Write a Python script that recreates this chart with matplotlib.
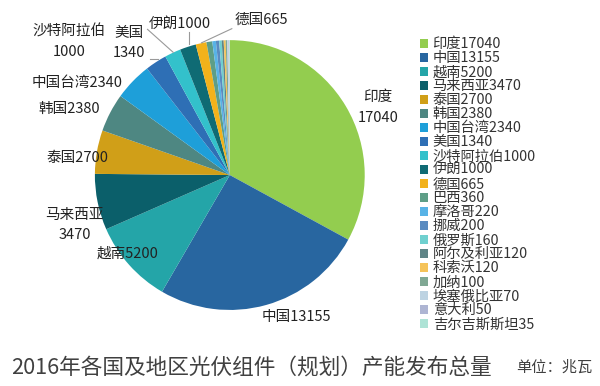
import matplotlib
matplotlib.use("Agg")
import matplotlib.pyplot as plt
from matplotlib.patches import Patch

plt.rcParams["font.family"] = ["Noto Sans CJK SC", "DejaVu Sans"]

countries = ["印度", "中国", "越南", "马来西亚", "泰国", "韩国", "中国台湾", "美国",
             "沙特阿拉伯", "伊朗", "德国", "巴西", "摩洛哥", "挪威", "俄罗斯",
             "阿尔及利亚", "科索沃", "加纳", "埃塞俄比亚", "意大利", "吉尔吉斯斯坦"]
capacity = [17040, 13155, 5200, 3470, 2700, 2380, 2340, 1340, 1000, 1000, 665,
            360, 220, 200, 160, 120, 120, 100, 70, 50, 35]
colors = ["#93CD4F", "#2866A0", "#24A5A8", "#0B5F6A", "#D09F18", "#4E8782",
          "#1E9FD9", "#2E6FB5", "#33C1CB", "#0F6B74", "#F2B21B", "#5E9E87",
          "#58B3E6", "#5A8BC0", "#6FD0CF", "#5F8587", "#F5C35A", "#80A894",
          "#BDD3E2", "#AEB5D3", "#AEE3D6"]

# label text and position (pie data coords, radius = 1)
slice_labels = {
    "印度": ("印度\n17040", (1.10, 0.50)),
    "中国": ("中国13155", (0.49, -1.05)),
    "越南": ("越南5200", (-0.76, -0.58)),
    "马来西亚": ("马来西亚\n3470", (-1.15, -0.37)),
    "泰国": ("泰国2700", (-1.13, 0.13)),
    "韩国": ("韩国2380", (-1.19, 0.49)),
    "中国台湾": ("中国台湾2340", (-1.13, 0.68)),
    "沙特阿拉伯": ("沙特阿拉伯\n1000", (-1.19, 0.99)),
    "美国": ("美国\n1340", (-0.75, 0.98)),
    "伊朗": ("伊朗1000", (-0.37, 1.12)),
    "德国": ("德国665", (0.23, 1.15)),
}

# leader lines (pie data coords)
leaders = [
    ((-0.61, 1.08), (-0.42, 0.91)),
    ((-0.59, 0.86), (-0.53, 0.86)),
    ((-0.30, 1.06), (-0.30, 0.97)),
    ((0.015, 1.085), (-0.21, 0.98)),
]

fig = plt.figure(figsize=(6, 3.86), dpi=100)
ax = fig.add_axes([0.158, 0.197, 0.45, 0.699])
ax.pie(capacity, colors=colors, startangle=90, counterclock=False,
       wedgeprops=dict(linewidth=0))
ax.set_aspect("equal")
ax.set_xlim(-1, 1)
ax.set_ylim(-1, 1)

for name, (txt, (x, y)) in slice_labels.items():
    ax.text(x, y, txt, ha="center", va="center", fontsize=10.5, color="#222222",
            linespacing=1.6, clip_on=False)

for (x0, y0), (x1, y1) in leaders:
    ax.plot([x0, x1], [y0, y1], color="#999999", lw=0.8, clip_on=False)

handles = [Patch(facecolor=c, edgecolor="none") for c in colors]
labels = [f"{n}{v}" for n, v in zip(countries, capacity)]
leg = fig.legend(handles, labels, loc="upper left", bbox_to_anchor=(0.69, 0.918),
                 frameon=False, fontsize=10.3, handlelength=0.55, handleheight=0.55,
                 handletextpad=0.35, labelspacing=0.0, borderaxespad=0)
for t in leg.get_texts():
    t.set_color("#333333")

fig.text(0.018, 0.049, "2016年各国及地区光伏组件（规划）产能发布总量", fontsize=15.6,
         color="#404040", va="center")
fig.text(0.987, 0.049, "单位：兆瓦", fontsize=11, color="#404040", va="center",
         ha="right")

fig.savefig("out.png", dpi=100)
